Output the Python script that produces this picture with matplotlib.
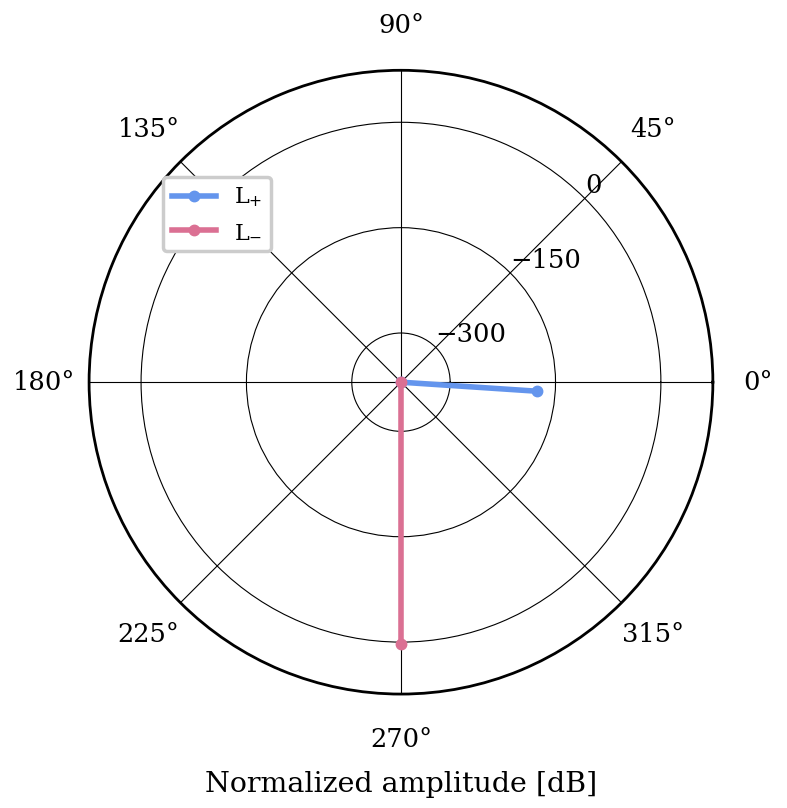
import numpy as np
import matplotlib.pyplot as plt

plt.rcParams['font.family'] = ['DejaVu Serif']

# 数据：角度（度）与归一化幅度（dB）
L_PLUS_THETA = [0.0, -3.8]
L_PLUS_R = [-370.0, -176.0]
L_MINUS_THETA = [270.0, 270.0]
L_MINUS_R = [-370.0, 3.0]
R_TICKS = [-300, -150, 0]
R_LIM = (-370, 74)

fig = plt.figure(figsize=(7.87, 8.08), dpi=100)
ax = fig.add_axes([0.113, 0.141, 0.793, 0.772], projection='polar')

ax.plot(np.deg2rad(L_PLUS_THETA), L_PLUS_R, color='cornflowerblue',
        lw=4, marker='o', ms=7.5, label='L$_{+}$')
ax.plot(np.deg2rad(L_MINUS_THETA), L_MINUS_R, color='palevioletred',
        lw=4, marker='o', ms=7.5, label='L$_{-}$')

ax.set_ylim(*R_LIM)
ax.set_yticks(R_TICKS)
ax.set_rlabel_position(45)
ax.set_thetagrids(np.arange(0, 360, 45))
ax.tick_params(axis='x', labelsize=18.5, pad=22)
ax.tick_params(axis='y', labelsize=18.5)
ax.grid(True, color='black', lw=0.8)
ax.spines['polar'].set_linewidth(2)
ax.set_xlabel('Normalized amplitude [dB]', fontsize=20.5, labelpad=14)

leg = fig.legend(loc='upper left', bbox_to_anchor=(0.193, 0.795),
                 fontsize=16, framealpha=1, fancybox=True)
leg.get_frame().set_edgecolor('#cccccc')
leg.get_frame().set_linewidth(2.5)

fig.savefig('out.png', dpi=100)
